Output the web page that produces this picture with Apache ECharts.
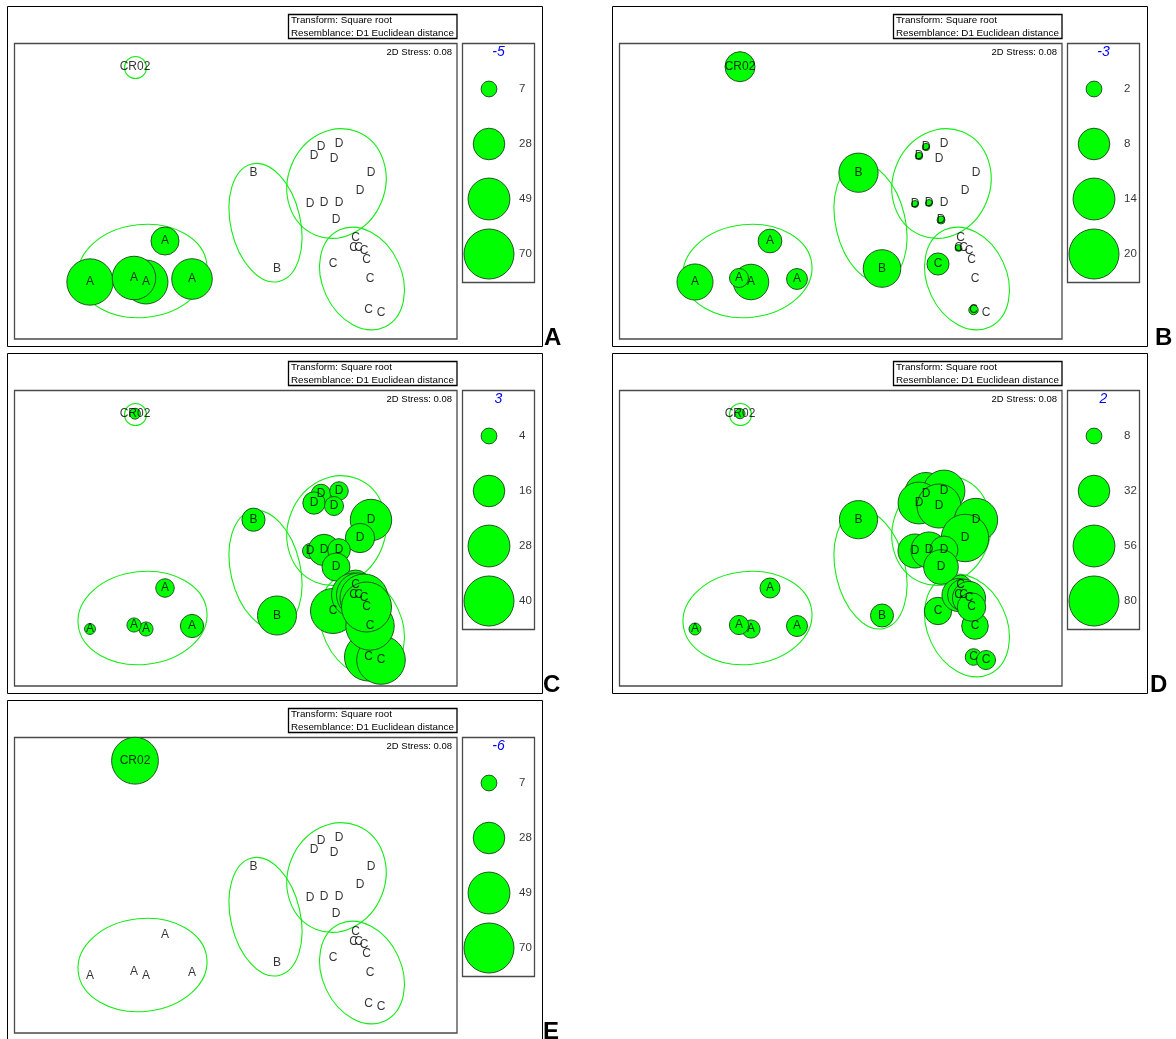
<!DOCTYPE html>
<html>
<head>
<meta charset="utf-8">
<title>nMDS bubble plots</title>
<script src="https://cdn.jsdelivr.net/npm/echarts@6/dist/echarts.min.js"></script>
<style>
  html, body { margin: 0; padding: 0; background: #ffffff; }
  #chart { width: 1176px; height: 1039px; }
</style>
</head>
<body>
<div id="chart"></div>
<script>
// ---- nMDS configuration shared by every panel ----
const sampleNames = ['CR02', 'A', 'A', 'A', 'A', 'A', 'B', 'B',
  'D', 'D', 'D', 'D', 'D', 'D', 'D', 'D', 'D', 'D',
  'C', 'C', 'C', 'C', 'C', 'C', 'C', 'C', 'C'];
const mds1 = [-1.01, -1.46, -0.90, -1.02, -0.44, -0.71, 0.175, 0.41,
  0.85, 1.03, 0.78, 0.98, 1.35, 1.24, 0.74, 0.88, 1.03, 1.00,
  0.97, 1.325, 1.45, 1.34, 1.195, 1.175, 1.225, 1.28, 1.305];
const mds2 = [1.243, -0.91, -0.91, -0.87, -0.88, -0.50, 0.183, -0.775,
  0.44, 0.47, 0.35, 0.32, 0.18, 0.00, -0.13, -0.12, -0.12, -0.29,
  -0.73, -1.19, -1.22, -0.88, -0.47, -0.57, -0.57, -0.60, -0.69];

// group ellipses: centre, semi-axes and orientation (degrees)
const ellipseGroups = ['A', 'B', 'C', 'D', 'CR02'];
const ellipseX = [-0.935, 0.295, 1.26, 1.005, -1.005];
const ellipseY = [-0.80, -0.317, -0.875, 0.075, 1.235];
const ellipseMajor = [0.647, 0.603, 0.535, 0.557, 0.11];
const ellipseMinor = [0.465, 0.348, 0.396, 0.486, 0.11];
const ellipseAngle = [6, 103, 115.2, 68, 0];

// ---- bubble values per panel (same sample order as above) ----
const valuesA = [0, 60, 54, 53, 46, 22, 0, 0,
  0, 0, 0, 0, 0, 0, 0, 0, 0, 0,
  0, 0, 0, 0, 0, 0, 0, 0, 0];
const valuesB = [7.2, 10.4, 10.1, 2.9, 3.5, 4.5, 12.3, 11.3,
  0.44, 0, 0.44, 0, 0, 0, 0.39, 0.39, 0, 0.51,
  3.9, 0.71, 0, 0, 0, 0.35, 0, 0, 0];
const valuesC = [1.9, 1.9, 3.2, 3.2, 8.6, 5.5, 8.6, 24.3,
  6.1, 5.5, 8.0, 5.8, 27.4, 13.8, 3.6, 15.8, 8.2, 12.5,
  32.4, 36.9, 37.8, 37.5, 14.4, 31, 31, 36.9, 40];
const valuesD = [3.3, 4.6, 10.6, 11.8, 14.1, 12.8, 46.7, 16.9,
  59, 56, 56, 62, 60, 72, 37, 41.5, 25, 38.3,
  24, 8.8, 11.6, 22.6, 12.8, 35, 32.8, 35, 26];
const valuesE = [61.3, 0, 0, 0, 0, 0, 0, 0,
  0, 0, 0, 0, 0, 0, 0, 0, 0, 0,
  0, 0, 0, 0, 0, 0, 0, 0, 0];

// ---- size-key values and headings ----
const keyA = [7, 28, 49, 70];
const keyB = [2, 8, 14, 20];
const keyC = [4, 16, 28, 40];
const keyD = [8, 32, 56, 80];
const keyE = [7, 28, 49, 70];
const keyTitles = ['-5', '-3', '3', '2', '-6'];
const panelLetters = ['A', 'B', 'C', 'D', 'E'];
const transformText = 'Transform: Square root';
const resemblanceText = 'Resemblance: D1 Euclidean distance';
const stressText = '2D Stress: 0.08';

// ---- layout ----
const FONT = '"Liberation Sans", Arial, Helvetica, sans-serif';
const panelOrigins = [[0, 0], [605, 0], [0, 347], [605, 347], [0, 694]];
const letterX = [544, 1155, 543, 1150, 543];
const panelValues = [valuesA, valuesB, valuesC, valuesD, valuesE];
const panelKeys = [keyA, keyB, keyC, keyD, keyE];
const MAX_R = 25; // bubble radius (px) for the largest key value

const bubbleStyle = { color: '#00ff00', borderColor: '#245524', borderWidth: 1, opacity: 1 };
const grid = [], xAxis = [], yAxis = [], series = [], graphic = [];

panelOrigins.forEach(([ox, oy], p) => {
  const vals = panelValues[p];
  const key = panelKeys[p];
  const vmax = key[key.length - 1];
  const sizeOf = v => 2 * MAX_R * Math.sqrt(v / vmax);

  // ordination plot
  const g = grid.length;
  grid.push({ left: ox + 14.5, top: oy + 43, width: 442.5, height: 296, show: false, containLabel: false, outerBoundsMode: 'none' });
  xAxis.push({ gridIndex: g, type: 'value', min: -2.215, max: 2.21, show: false });
  yAxis.push({ gridIndex: g, type: 'value', min: -1.48, max: 1.48, show: false });

  // size key
  const k = grid.length;
  grid.push({ left: ox + 462.5, top: oy + 61.5, width: 72, height: 220, show: false, containLabel: false, outerBoundsMode: 'none' });
  xAxis.push({ gridIndex: k, type: 'value', min: 0, max: 72, show: false });
  yAxis.push({ gridIndex: k, type: 'category', inverse: true, data: key.map(String), show: false });

  series.push({
    type: 'custom', xAxisIndex: g, yAxisIndex: g, z: 2, silent: true,
    data: ellipseGroups.map((n, i) => [ellipseX[i], ellipseY[i], ellipseMajor[i], ellipseMinor[i], ellipseAngle[i]]),
    renderItem: (params, api) => {
      const c = api.coord([api.value(0), api.value(1)]);
      const s = api.size([api.value(2), api.value(3)]);
      return {
        type: 'ellipse', x: c[0], y: c[1],
        rotation: api.value(4) * Math.PI / 180,
        shape: { cx: 0, cy: 0, rx: s[0], ry: s[1] },
        style: { fill: 'none', stroke: '#14ec14', lineWidth: 1.1 }
      };
    }
  });

  series.push({
    type: 'scatter', xAxisIndex: g, yAxisIndex: g, z: 3, silent: true,
    data: mds1.map((x, i) => [x, mds2[i], vals[i]]).filter(d => d[2] > 0),
    symbolSize: d => sizeOf(d[2]),
    itemStyle: bubbleStyle
  });

  series.push({
    type: 'scatter', xAxisIndex: g, yAxisIndex: g, z: 5, silent: true,
    symbolSize: 1, itemStyle: { color: 'rgba(0,0,0,0)' },
    data: mds1.map((x, i) => ({ value: [x, mds2[i]], name: sampleNames[i] })),
    label: { show: true, position: 'inside', formatter: '{b}', color: '#000', fontSize: 12, fontFamily: FONT }
  });

  series.push({
    type: 'scatter', xAxisIndex: k, yAxisIndex: k, z: 3, silent: true,
    data: key.map((v, i) => [26.5, i, v]),
    symbolSize: d => sizeOf(d[2]),
    itemStyle: bubbleStyle
  });

  series.push({
    type: 'scatter', xAxisIndex: k, yAxisIndex: k, z: 5, silent: true,
    symbolSize: 1, itemStyle: { color: 'rgba(0,0,0,0)' },
    data: key.map((v, i) => ({ value: [56.5, i], name: String(v) })),
    label: { show: true, position: 'inside', align: 'left', formatter: '{b}', color: '#000', fontSize: 11.5, fontFamily: FONT }
  });

  // frames and panel text
  graphic.push(
    { type: 'rect', silent: true, shape: { x: ox + 7.5, y: oy + 6.5, width: 535, height: 340 }, style: { fill: 'none', stroke: '#000', lineWidth: 1 } },
    { type: 'rect', silent: true, shape: { x: ox + 288.5, y: oy + 14.5, width: 168.5, height: 24 }, style: { fill: 'none', stroke: '#000', lineWidth: 1.3 } },
    { type: 'rect', silent: true, shape: { x: ox + 14.5, y: oy + 43.5, width: 442.5, height: 295.5 }, style: { fill: 'none', stroke: '#4a4a4a', lineWidth: 1.3 } },
    { type: 'rect', silent: true, shape: { x: ox + 462.5, y: oy + 43.5, width: 72, height: 239 }, style: { fill: 'none', stroke: '#4a4a4a', lineWidth: 1.3 } },
    { type: 'text', silent: true, x: ox + 291, y: oy + 20.5, style: { text: transformText, fontSize: 9.8, fontFamily: FONT, fill: '#000', align: 'left', verticalAlign: 'middle' } },
    { type: 'text', silent: true, x: ox + 291, y: oy + 33, style: { text: resemblanceText, fontSize: 9.8, fontFamily: FONT, fill: '#000', align: 'left', verticalAlign: 'middle' } },
    { type: 'text', silent: true, x: ox + 452, y: oy + 52.5, style: { text: stressText, fontSize: 9.5, fontFamily: FONT, fill: '#000', align: 'right', verticalAlign: 'middle' } },
    { type: 'text', silent: true, x: ox + 498.5, y: oy + 52.5, style: { text: keyTitles[p], fontSize: 14, fontStyle: 'italic', fontFamily: FONT, fill: '#0000ff', align: 'center', verticalAlign: 'middle' } },
    { type: 'text', silent: true, x: letterX[p], y: oy + 338.5, style: { text: panelLetters[p], fontSize: 24, fontWeight: 'bold', fontFamily: FONT, fill: '#000', align: 'left', verticalAlign: 'middle' } }
  );
});

const chart = echarts.init(document.getElementById('chart'), null, { renderer: 'canvas' });
chart.setOption({
  animation: false,
  backgroundColor: '#ffffff',
  tooltip: { show: false },
  grid, xAxis, yAxis, series, graphic
});
</script>
</body>
</html>
